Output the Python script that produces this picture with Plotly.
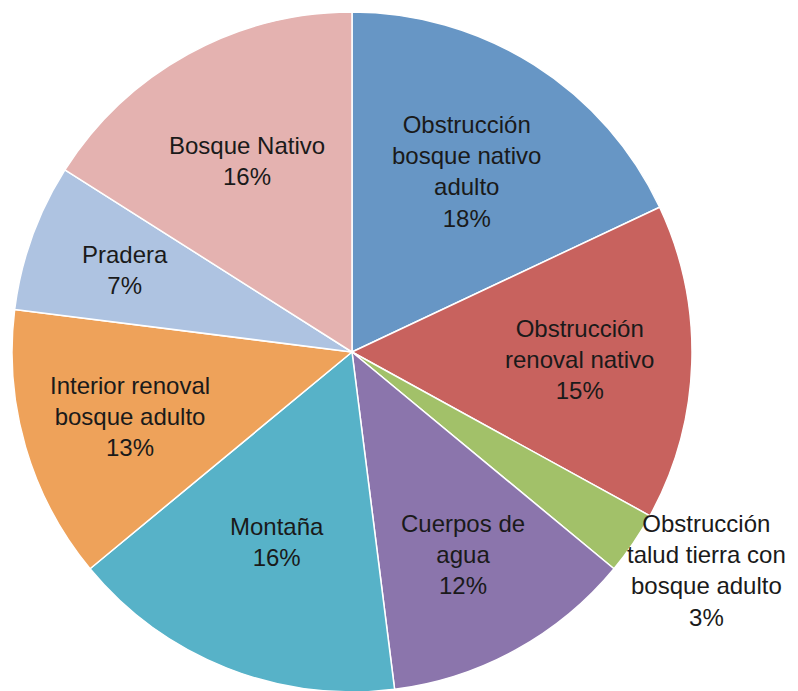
import math

import plotly.graph_objects as go

# slices clockwise from 12 o'clock
labels = [
    "Obstrucción<br>bosque nativo<br>adulto",
    "Obstrucción<br>renoval nativo",
    "Obstrucción<br>talud tierra con<br>bosque adulto",
    "Cuerpos de<br>agua",
    "Montaña",
    "Interior renoval<br>bosque adulto",
    "Pradera",
    "Bosque Nativo",
]
values = [18, 15, 3, 12, 16, 13, 7, 16]
colors = ["#6796C5", "#C8625E", "#A2C169", "#8B75AC", "#57B2C8",
          "#EEA25A", "#AEC3E1", "#E4B2B0"]

FONT = "Liberation Sans, Arial, sans-serif"
TEXT_COLOR = "#1a1a1a"
# how far out (fraction of the radius) each slice label sits; None -> outside label
LABEL_R = [0.63, 0.67, None, 0.68, 0.60, 0.68, 0.71, 0.64]

fig = go.Figure(go.Pie(
    labels=labels,
    values=values,
    sort=False,
    direction="clockwise",
    marker=dict(colors=colors, line=dict(color="white", width=1.5)),
    textinfo="none",
    hoverinfo="label+percent",
    showlegend=False,
    automargin=False,
))

# labels at the middle angle of each slice (pie centre = paper 0.5, radius = 0.5)
total = sum(values)
cum = 0
for lab, val, fr in zip(labels, values, LABEL_R):
    mid = (cum + val / 2) / total * 2 * math.pi
    cum += val
    if fr is None:
        # small slice: text sits outside, right of the rim
        x, y = 1.0206, 0.178
    else:
        x = 0.5 + 0.5 * fr * math.sin(mid)
        y = 0.5 + 0.5 * fr * math.cos(mid)
    fig.add_annotation(
        text=f"{lab}<br>{val}%",
        xref="paper", yref="paper", x=x, y=y,
        xanchor="center", yanchor="middle",
        showarrow=False,
        font=dict(family=FONT, size=24, color=TEXT_COLOR),
    )

fig.update_layout(
    width=798,
    height=691,
    margin=dict(l=4, r=114, t=4, b=7),
    paper_bgcolor="white",
    plot_bgcolor="white",
)

fig.write_html("out.html")
